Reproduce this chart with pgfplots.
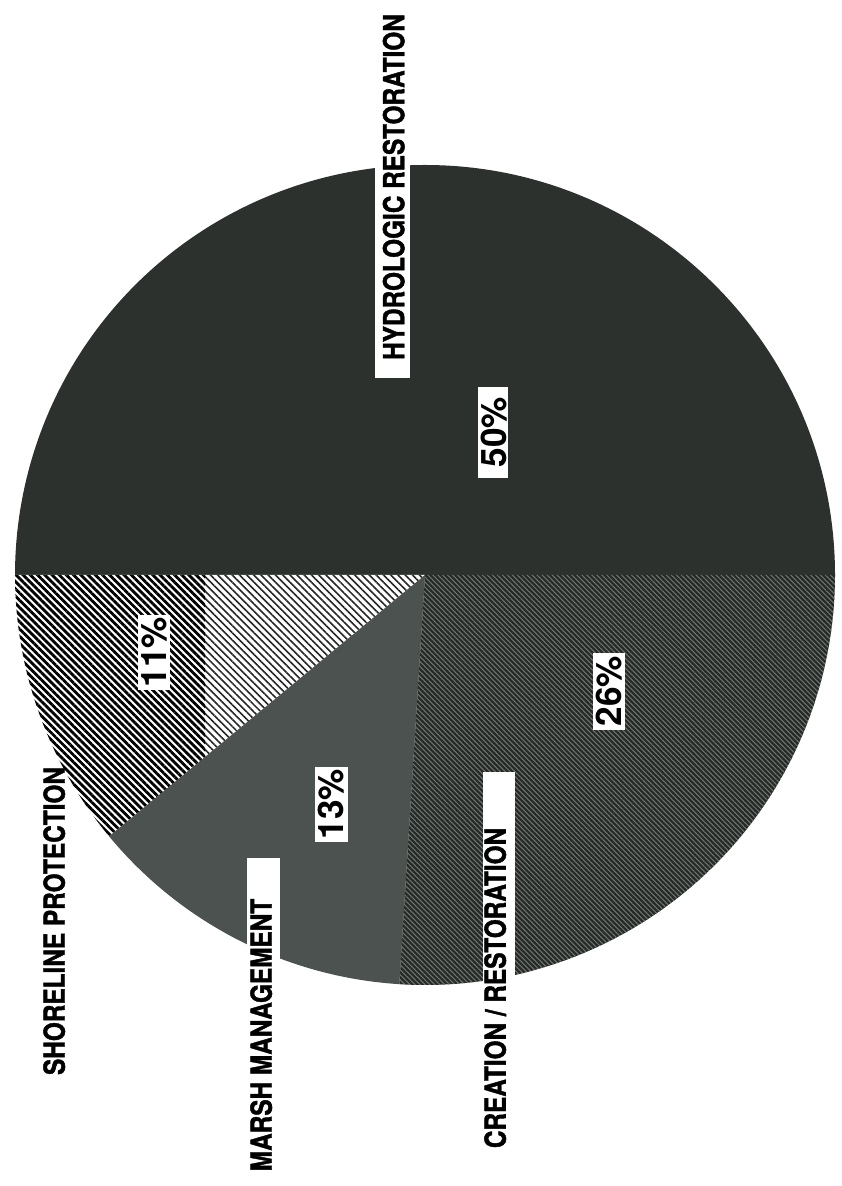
\documentclass[border=0pt]{standalone}
\usepackage{pgfplots}
\pgfplotsset{compat=1.18}
\usetikzlibrary{patterns.meta}
\usepackage{graphicx}
\usepackage{fontspec}
\setmainfont{TeX Gyre Heros}
\newfontfamily\heavy{TeX Gyre Heros}[BoldFeatures={FakeBold=1.6}]

\definecolor{hydro}{RGB}{44,49,46}
\definecolor{marsh}{RGB}{76,82,79}
\definecolor{creat}{RGB}{38,42,39}
\definecolor{creatline}{RGB}{112,117,113}

\tikzset{
  lbl/.style={rotate=90, text depth=0pt, inner sep=0pt, font=\fontsize{8.25}{9}\selectfont\heavy\bfseries},
  pct/.style={rotate=90, text depth=0pt, inner sep=0pt, font=\fontsize{10}{11}\selectfont\bfseries},
}

% shares in percent
\def\pHydro{50}
\def\pShore{11}
\def\pMarsh{13}
\def\pCreat{26}

% cumulative angles, counter-clockwise from east
\pgfmathsetmacro\aA{0}
\pgfmathsetmacro\aB{\aA+3.6*\pHydro}
\pgfmathsetmacro\aC{\aB+3.6*\pShore}
\pgfmathsetmacro\aD{\aC+3.6*\pMarsh}
\pgfmathsetmacro\aE{\aD+3.6*\pCreat}

\newcommand\wedgepath[2]{(axis cs:425,611) -- ++(#1:4.1cm) arc[start angle=#1, end angle=#2, radius=4.1cm] -- cycle}

\begin{document}
\begin{tikzpicture}
\begin{axis}[
  width=8.41cm, height=11.86cm,
  scale only axis,
  xmin=0, xmax=841, ymin=0, ymax=1186,
  hide axis,
  clip=false,
]
\path (axis cs:0,0) rectangle (axis cs:841,1186);

% hydrologic restoration
\fill[hydro] \wedgepath{\aA}{\aB};
% shoreline protection
\fill[white] \wedgepath{\aB}{\aC};
\begin{scope}
  \clip \wedgepath{\aB}{\aC};
  \fill[pattern={Lines[angle=-45, distance=1.45pt, line width=0.8pt]}, pattern color=black]
    (axis cs:0,0) rectangle (axis cs:205,1186);
  \fill[pattern={Lines[angle=-45, distance=1.45pt, line width=0.45pt]}, pattern color=black!85]
    (axis cs:205,0) rectangle (axis cs:841,1186);
\end{scope}
% marsh management
\fill[marsh] \wedgepath{\aC}{\aD};
% creation / restoration
\fill[creat] \wedgepath{\aD}{\aE};
\fill[pattern={Lines[angle=-45, distance=1.0pt, line width=0.3pt]}, pattern color=creatline]
  \wedgepath{\aD}{\aE};

% white label boxes
\fill[white] (axis cs:375,808) rectangle (axis cs:410,1026);
\fill[white] (axis cs:478,708) rectangle (axis cs:508,799);
\fill[white] (axis cs:593,456) rectangle (axis cs:625,533);
\fill[white] (axis cs:315,344) rectangle (axis cs:348,419);
\fill[white] (axis cs:138,496) rectangle (axis cs:170,571);
\fill[white] (axis cs:247,186) rectangle (axis cs:280,328);
\fill[white] (axis cs:483,186) rectangle (axis cs:515,414);

% category labels
\node[lbl] at (axis cs:393.5,999) {\scalebox{0.84}[1]{HYDROLOGIC RESTORATION}};
\node[lbl] at (axis cs:54,265) {\scalebox{0.84}[1]{SHORELINE PROTECTION}};
\node[lbl] at (axis cs:261,151) {\scalebox{0.84}[1]{MARSH MANAGEMENT}};
\node[lbl] at (axis cs:495,198) {\scalebox{0.84}[1]{CREATION / RESTORATION}};

% percentages
\node[pct] at (axis cs:494,754) {\pHydro\%};
\node[pct] at (axis cs:609,495) {\pCreat\%};
\node[pct] at (axis cs:331,382) {\pMarsh\%};
\node[pct] at (axis cs:154,534) {\pShore\%};
\end{axis}
\end{tikzpicture}
\end{document}
